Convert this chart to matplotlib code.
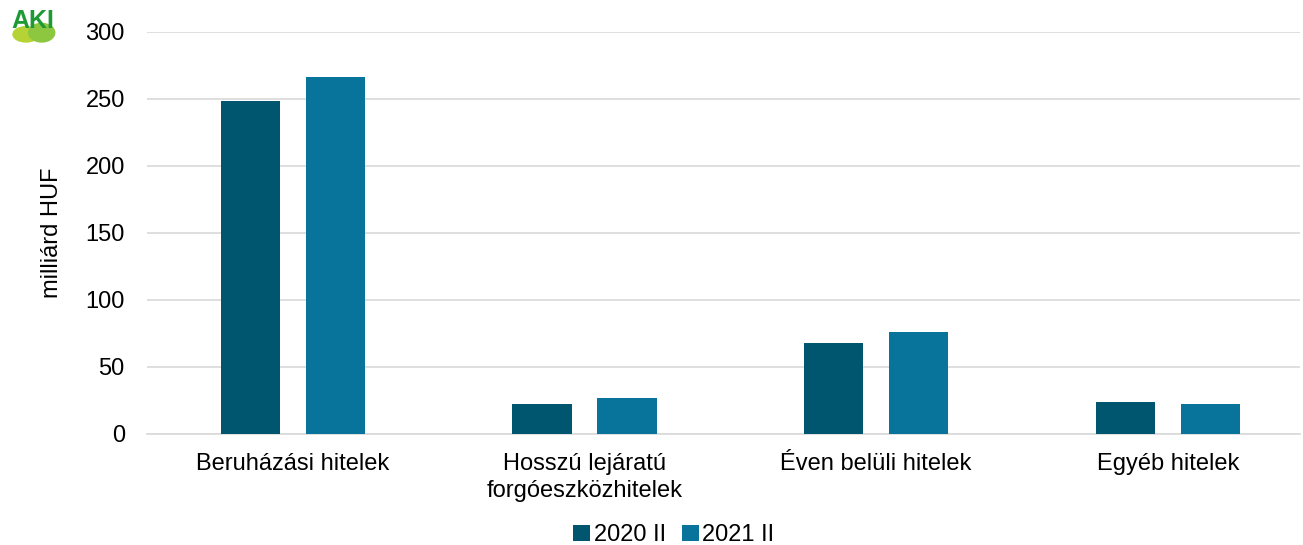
import numpy as np
import matplotlib
matplotlib.use('Agg')
import matplotlib.pyplot as plt
import matplotlib.patches as mpatches

plt.rcParams['font.family'] = ['Liberation Sans', 'DejaVu Sans']

categories = ['Beruházási hitelek', 'Hosszú lejáratú\nforgóeszközhitelek',
              'Éven belüli hitelek', 'Egyéb hitelek']
series_names = ['2020 II', '2021 II']
values_2020 = [248.5, 22.4, 67.9, 23.9]
values_2021 = [266.4, 26.9, 76.1, 22.4]
yticks = [0, 50, 100, 150, 200, 250, 300]

colors = ['#00566F', '#08749C']

fig = plt.figure(figsize=(13.03, 5.45), dpi=100)
ax = fig.add_axes([0.1128, 0.2037, 0.8849, 0.7376])

x = np.arange(len(categories))
w = 0.203
off = 0.146
ax.bar(x - off, values_2020, w, color=colors[0], label=series_names[0], zorder=3)
ax.bar(x + off, values_2021, w, color=colors[1], label=series_names[1], zorder=3)

ax.set_xlim(-0.5, 3.453)
ax.set_ylim(0, 300)
ax.set_yticks(yticks)
ax.tick_params(axis='y', length=0, labelsize=17, pad=16)
ax.tick_params(axis='x', length=0, labelsize=17, pad=14)
ax.set_xticks(x)
ax.set_xticklabels(categories, linespacing=1.25)
ax.yaxis.grid(True, color='#D9D9D9', linewidth=1.2, zorder=0)
for s in ['top', 'right', 'left']:
    ax.spines[s].set_visible(False)
ax.spines['bottom'].set_color('#D9D9D9')
ax.spines['bottom'].set_linewidth(1.2)
ax.set_ylabel('milliárd HUF', fontsize=17, labelpad=16)

ax.legend(loc='center', bbox_to_anchor=(0.457, -0.252), ncol=2, frameon=False,
          fontsize=17, handlelength=0.7, handleheight=0.7, handletextpad=0.15,
          columnspacing=0.7)

# logo
fig.patches.append(mpatches.Ellipse((0.02, 0.937), 0.02, 0.028, color='#B5D334',
                                    transform=fig.transFigure, figure=fig))
fig.patches.append(mpatches.Ellipse((0.032, 0.94), 0.02, 0.034, color='#8DC63F',
                                    transform=fig.transFigure, figure=fig))
fig.text(0.009, 0.94, 'AKI', fontsize=18, fontweight='bold', color='#1E9A35',
         ha='left', va='bottom')

fig.savefig('out.png', dpi=100)
